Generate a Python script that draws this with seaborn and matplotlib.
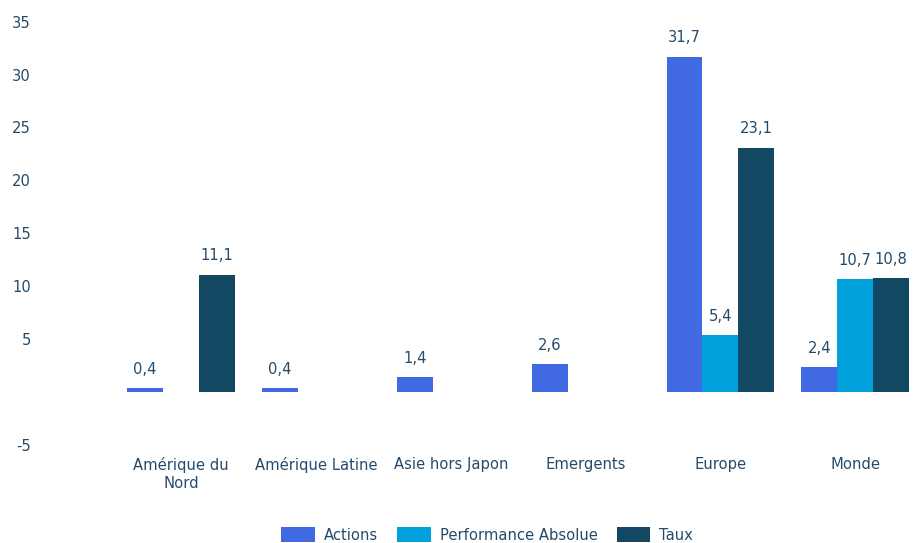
import numpy as np
import pandas as pd
import matplotlib
matplotlib.use("Agg")
import matplotlib.pyplot as plt
import seaborn as sns
from matplotlib.patches import Patch

categories = ["Amérique du\nNord", "Amérique Latine", "Asie hors Japon", "Emergents", "Europe", "Monde"]
series = ["Actions", "Performance Absolue", "Taux"]
actions = [0.4, 0.4, 1.4, 2.6, 31.7, 2.4]
perf_abs = [np.nan, np.nan, np.nan, np.nan, 5.4, 10.7]
taux = [11.1, np.nan, np.nan, np.nan, 23.1, 10.8]
yticks = [-5, 5, 10, 15, 20, 25, 30, 35]
colors = ["#4169E1", "#00A0DC", "#134863"]
text_color = "#244a6c"

rows = []
for vals, s in zip([actions, perf_abs, taux], series):
    for c, v in zip(categories, vals):
        rows.append({"cat": c, "serie": s, "val": v})
df = pd.DataFrame(rows)

sns.set_theme(style="white")
plt.rcParams['font.family'] = ['DejaVu Sans']
fs = 10.6

fig = plt.figure(figsize=(9.16, 5.43), dpi=100)
W, H = 916, 543
ax = fig.add_axes([45 / W, 1 - 450 / H, (916 - 45) / W, 440 / H])

sns.barplot(data=df, x="cat", y="val", hue="serie", order=categories, hue_order=series,
            palette=colors, width=0.8, ax=ax, legend=False, saturation=1, linewidth=0)

ax.set_xlim(-1.009, 5.45)
ax.set_ylim(-5.48, 36.1)
ax.set_yticks(yticks)
ax.set_yticklabels([str(t) for t in yticks], color=text_color, fontsize=fs)
ax.tick_params(axis="y", length=0, pad=10)
ax.set_xlabel("")
ax.set_ylabel("")
for sp in ax.spines.values():
    sp.set_visible(False)
ax.grid(False)

for container in ax.containers:
    labels = []
    for bar in container:
        h = bar.get_height()
        if np.isnan(h):
            labels.append("")
        else:
            labels.append(f"{h:.1f}".replace(".", ","))
    ax.bar_label(container, labels=labels, padding=8, color=text_color, fontsize=fs)

ax.set_xticks(range(len(categories)))
ax.set_xticklabels(categories, color=text_color, fontsize=fs, linespacing=1.25, va="top")
ax.tick_params(axis="x", length=0, pad=5)

handles = [Patch(facecolor=c, edgecolor="none") for c in colors]
fig.legend(handles, series, loc="center", bbox_to_anchor=(487 / W, 1 - 535 / H), ncol=3,
           frameon=False, fontsize=fs, labelcolor=text_color, handlelength=2.3, handleheight=1.1,
           columnspacing=1.3, handletextpad=0.6)

fig.savefig("out.png", dpi=100)
